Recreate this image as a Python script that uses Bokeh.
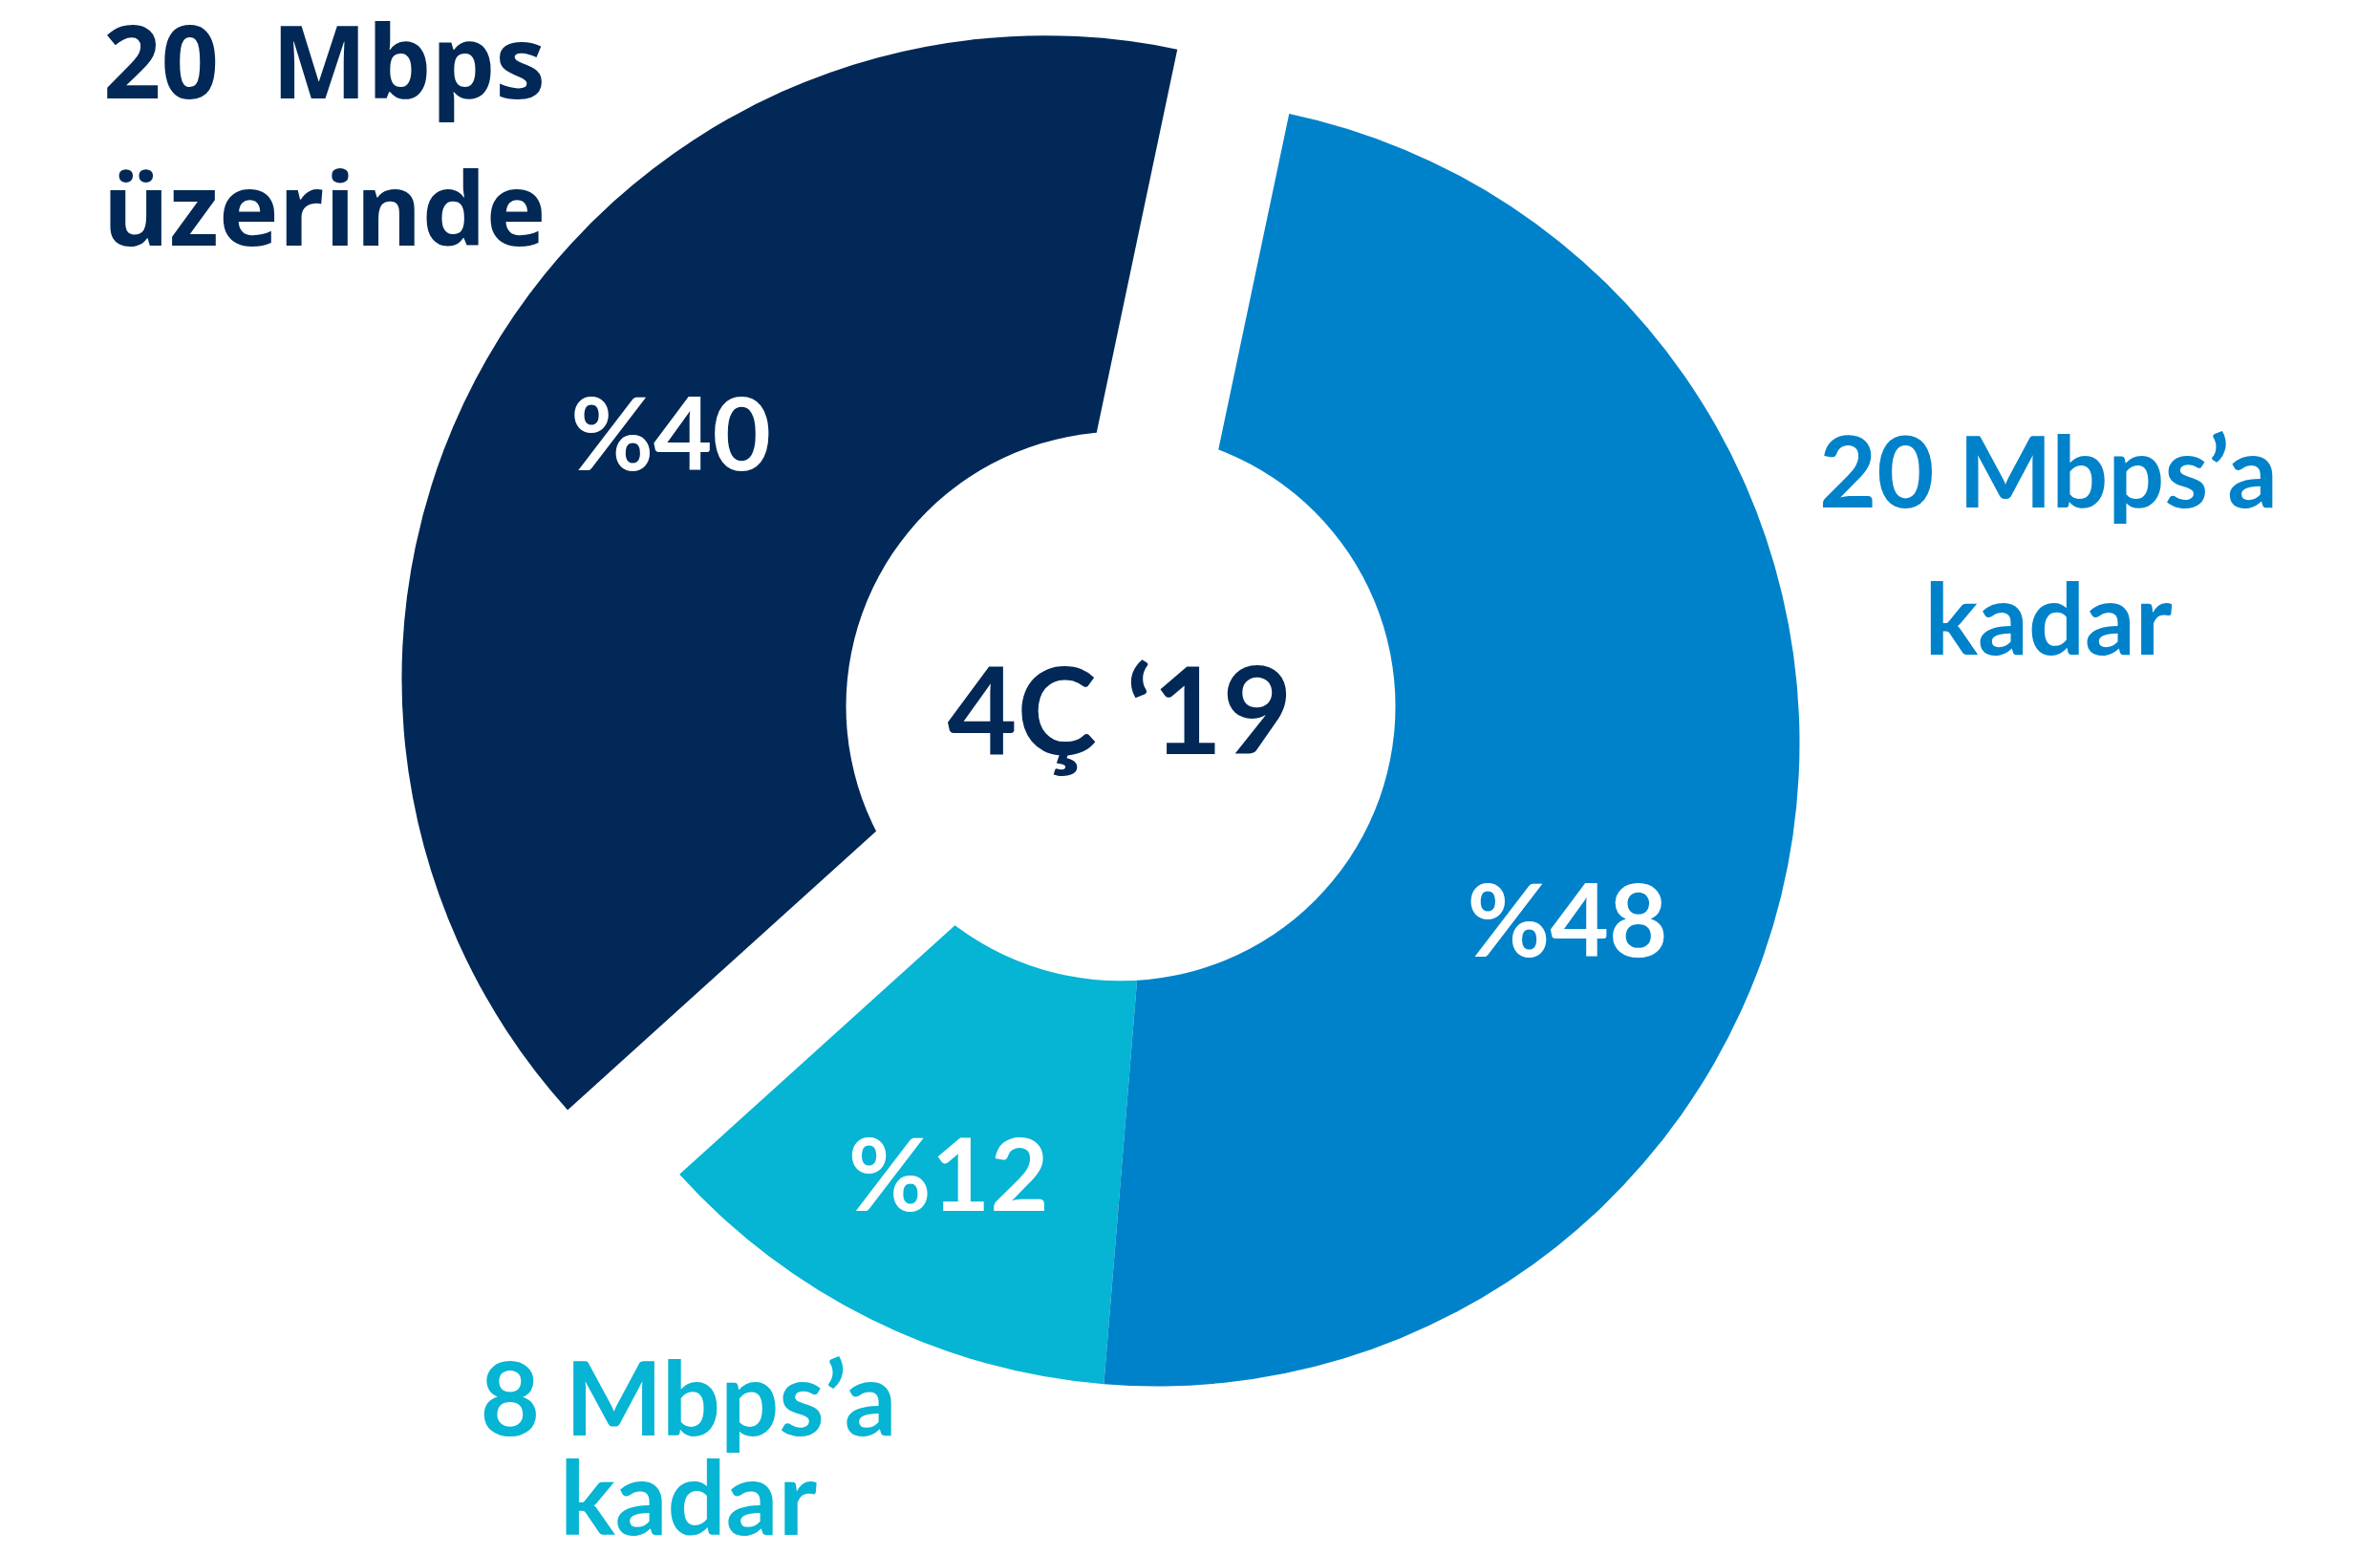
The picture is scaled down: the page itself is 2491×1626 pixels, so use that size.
import numpy as np
from bokeh.plotting import figure
from bokeh.models import Range1d, ColumnDataSource
from bokeh.core.properties import value
from bokeh.embed import file_html
from bokeh.resources import INLINE

# ---------------- data ----------------
categories = ["20 Mbps üzerinde", "8 Mbps’a kadar", "20 Mbps’a kadar"]
shares = [40, 12, 48]
pct_labels = ["%40", "%12", "%48"]
name_lines = [["20\u00a0\u00a0Mbps", "üzerinde"], ["8 Mbps’a", "kadar"], ["20 Mbps’a", "kadar"]]
period_label = "4Ç ‘19"

# ---------------- style ----------------
colors = ["#012856", "#06B4D4", "#0082CA"]
start_deg = 78.1
explode = [135, 0, 0]            # px, along slice mid-angle
cx, cy = 1210.0, 844.0           # pie centre (px, y up)
R = 673.0
hole_x, hole_y, hole_r = 1172.5, 882.5, 287.5
pct_pos = [(150.35, 450.4), (245.8, 531.3), (-26.96, 482.4)]   # (deg, r) from slice centre
name_pos = [(339, 1523.3, 154), (720, 124.5, 104), (2143.5, 1095, 154)]  # x, first baseline, line step
name_size = [106, 108, 104]
name_font = ["Open Sans", "Lato", "Lato"]
FONT = "Lato"
BASE_FIX = 0.345   # baseline correction (fraction of font size)


def fix(y, size):
    return y + BASE_FIX * size


W, H = 2475, 1610
p = figure(width=W, height=H, x_range=Range1d(0, W), y_range=Range1d(11, 11 + H),
           output_backend="svg", toolbar_location=None, min_border=0)
p.axis.visible = False
p.grid.visible = False
p.outline_line_color = None
p.background_fill_color = "white"
p.border_fill_color = "white"

vals = np.array(shares, dtype=float)
spans = vals / vals.sum() * 2 * np.pi
starts = np.deg2rad(start_deg) + np.concatenate([[0], np.cumsum(spans)[:-1]])
ends = starts + spans
mids = (starts + ends) / 2
xs = cx + np.array(explode) * np.cos(mids)
ys = cy + np.array(explode) * np.sin(mids)

src = ColumnDataSource(dict(x=xs, y=ys, start=starts, end=ends, color=colors, cat=categories))
p.wedge(x="x", y="y", radius=R, start_angle="start", end_angle="end", direction="anticlock",
        fill_color="color", line_color=None, source=src)

# centre hole
p.circle(x=[hole_x], y=[hole_y], radius=hole_r, fill_color="white", line_color=None)

# percentage labels
PS = 106
lx = [xs[i] + r * np.cos(np.deg2rad(a)) for i, (a, r) in enumerate(pct_pos)]
ly = [fix(ys[i] + r * np.sin(np.deg2rad(a)), PS) for i, (a, r) in enumerate(pct_pos)]
p.text(x=lx, y=ly, text=pct_labels, text_font=value(FONT), text_font_style="bold",
       text_font_size=value(f"{PS}px"), text_color="white", text_align="center",
       text_baseline="alphabetic")

# centre label
CS = 126
p.text(x=[hole_x - 1], y=[fix(837.7, CS)], text=[period_label], text_font=value(FONT),
       text_font_style="bold", text_font_size=value(f"{CS}px"), text_color=colors[0],
       text_align="center", text_baseline="alphabetic")

# category labels
for i, lines in enumerate(name_lines):
    x0, y0, step = name_pos[i]
    s = name_size[i]
    p.text(x=[x0] * len(lines), y=[fix(y0 - k * step, s) for k in range(len(lines))], text=lines,
           text_font=value(name_font[i]), text_font_style="bold", text_font_size=value(f"{s}px"),
           text_color=colors[i], text_align="center", text_baseline="alphabetic")

open("out.html", "w").write(file_html(p, INLINE))
